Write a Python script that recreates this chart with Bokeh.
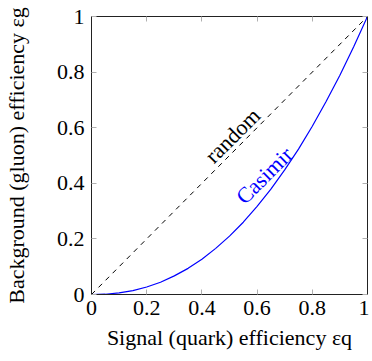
from bokeh.plotting import figure
from bokeh.models import Range1d, LinearAxis, FixedTicker, Label
from bokeh.embed import file_html
from bokeh.resources import INLINE
import math

# data
random_x = [0.0, 1.0]
random_y = [0.0, 1.0]
casimir_x = [0.0, 0.05, 0.1, 0.15, 0.2, 0.25, 0.3, 0.35, 0.4, 0.45, 0.5,
             0.55, 0.6, 0.65, 0.7, 0.75, 0.8, 0.85, 0.9, 0.95, 1.0]
casimir_y = [0.0, 0.001, 0.006, 0.014, 0.027, 0.044, 0.067, 0.094, 0.127, 0.166, 0.210,
             0.260, 0.317, 0.379, 0.448, 0.523, 0.605, 0.694, 0.789, 0.891, 1.0]
ticks = [0, 0.2, 0.4, 0.6, 0.8, 1.0]
tick_labels = {0: "0", 0.2: "0.2", 0.4: "0.4", 0.6: "0.6", 0.8: "0.8", 1.0: "1"}
x_title = "Signal (quark) efficiency εq"
y_title = "Background (gluon) efficiency εg"

FONT = "Liberation Serif"

p = figure(width=369, height=358, output_backend="svg", toolbar_location=None,
           x_range=Range1d(0, 1), y_range=Range1d(0, 1),
           min_border_left=89, min_border_right=2, min_border_top=16, min_border_bottom=64,
           x_axis_location=None, y_axis_location=None)
p.grid.visible = False
p.outline_line_color = "#222222"
p.outline_line_width = 1

def style(ax, labels=True):
    ax.ticker = FixedTicker(ticks=ticks)
    ax.minor_tick_line_color = None
    ax.major_tick_in = 5
    ax.major_tick_out = 0
    ax.major_tick_line_color = "#b0b0b0"
    ax.axis_line_color = "#222222"
    ax.major_label_text_font = FONT
    ax.major_label_text_font_size = "22px"
    ax.major_label_text_color = "black"
    ax.major_label_standoff = 6
    ax.axis_label_text_font = FONT
    ax.axis_label_text_font_size = "22px"
    ax.axis_label_text_font_style = "normal"
    ax.axis_label_text_color = "black"
    if labels:
        ax.major_label_overrides = tick_labels
    else:
        ax.major_label_overrides = {t: "" for t in ticks}

xb = LinearAxis(axis_label=x_title); style(xb); xb.axis_label_standoff = 7
p.add_layout(xb, "below")
yl = LinearAxis(axis_label=y_title); style(yl); yl.axis_label_standoff = 25
yl.major_label_standoff = 7
p.add_layout(yl, "left")
xt = LinearAxis(); style(xt, False); p.add_layout(xt, "above")
yr = LinearAxis(); style(yr, False); p.add_layout(yr, "right")

p.line(random_x, random_y, line_color="black", line_dash="5 5", line_width=1)
p.line(casimir_x, casimir_y, line_color="#0000ff", line_width=1.2)

p.add_layout(Label(x=0.511, y=0.572, text="random", angle=math.pi / 4,
                   text_align="center", text_baseline="middle",
                   text_font=FONT, text_font_size="22px", text_color="black"))
p.add_layout(Label(x=0.626, y=0.428, text="Casimir", angle=math.pi / 4,
                   text_align="center", text_baseline="middle",
                   text_font=FONT, text_font_size="22px", text_color="#0000ff"))

open("out.html", "w").write(file_html(p, INLINE))
